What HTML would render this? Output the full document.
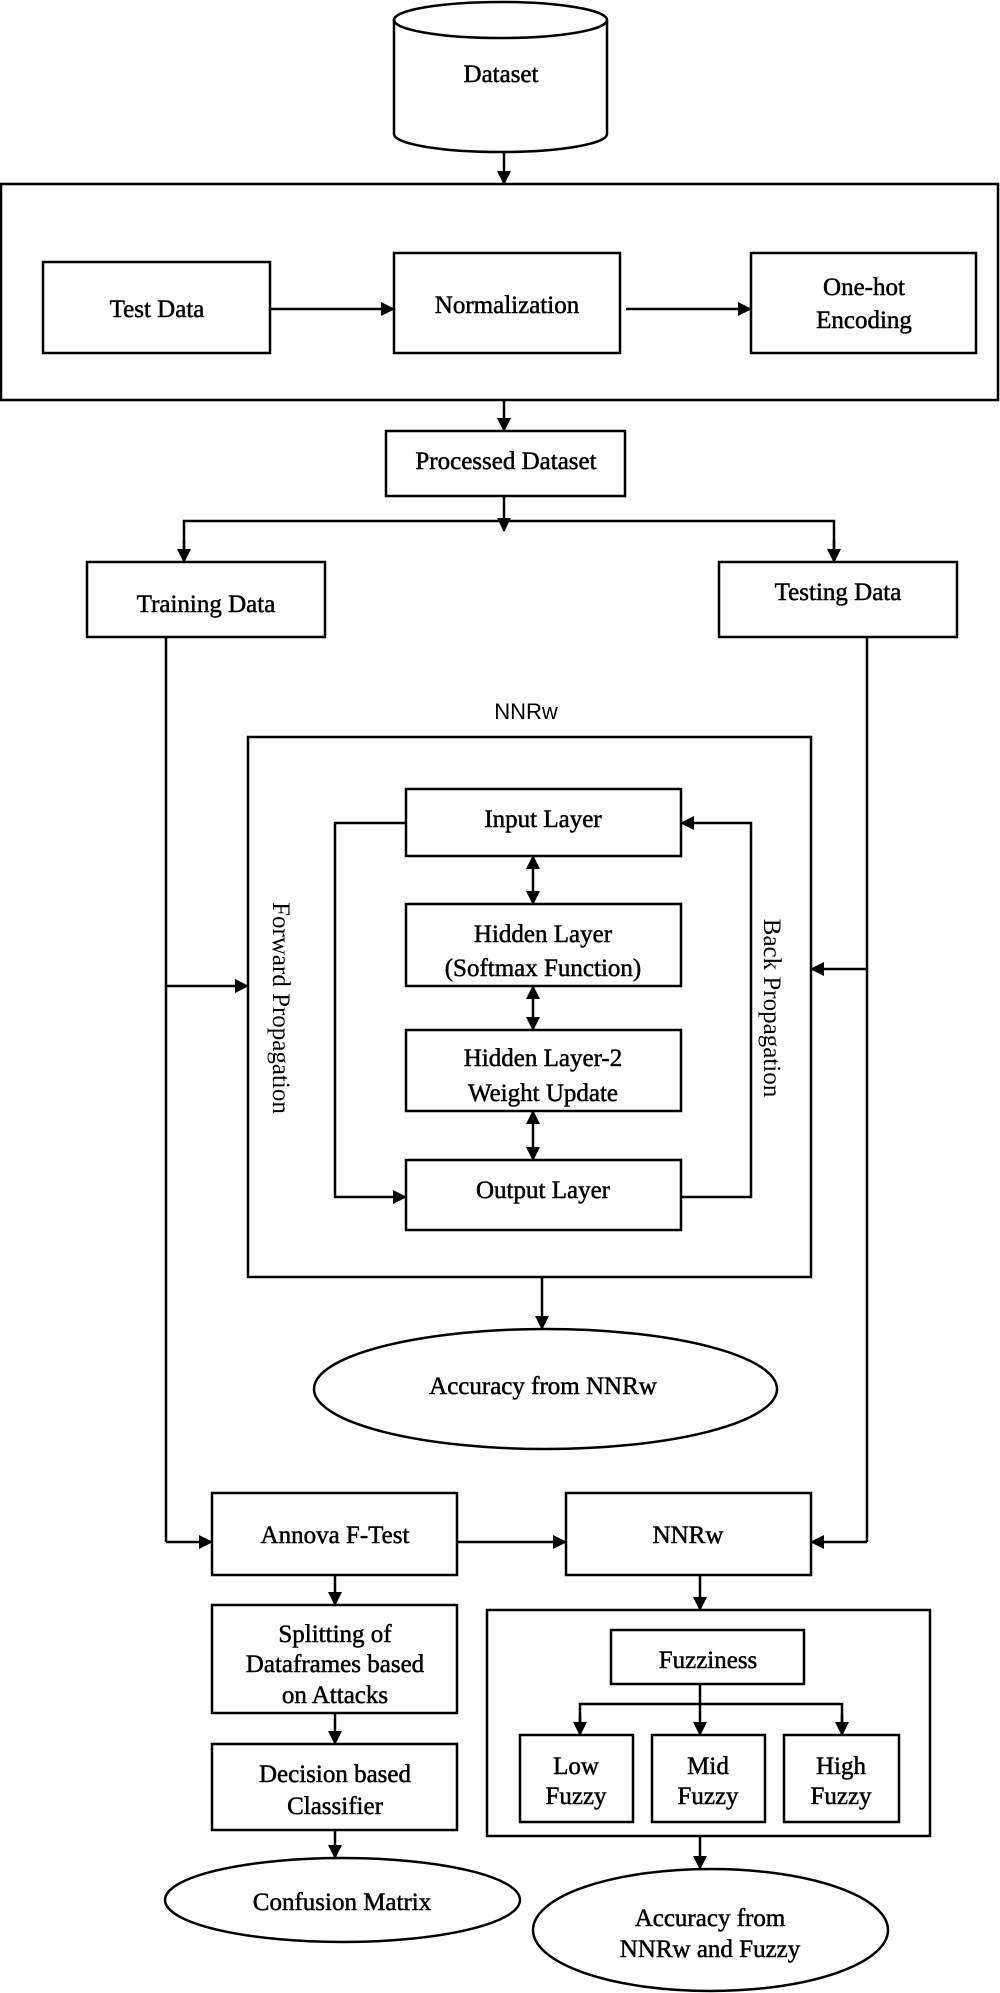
<!DOCTYPE html>
<html><head><meta charset="utf-8"><style>
html,body{margin:0;padding:0;background:#fff;}
svg{display:block;}
text{font-family:"Liberation Serif",serif;font-size:25px;fill:#000;stroke:#000;stroke-width:0.5;text-anchor:middle;}
</style></head><body>
<svg width="1000" height="1993" viewBox="0 0 1000 1993" xmlns="http://www.w3.org/2000/svg">
<defs>
<marker id="a" markerWidth="14" markerHeight="14" refX="13" refY="7" orient="auto" markerUnits="userSpaceOnUse">
<path d="M0,0 L14,7 L0,14 z" fill="#000"/></marker>
<marker id="as" markerWidth="14" markerHeight="14" refX="1" refY="7" orient="auto" markerUnits="userSpaceOnUse">
<path d="M14,0 L0,7 L14,14 z" fill="#000"/></marker>
</defs>
<g stroke="#000" stroke-width="2.5" fill="none">
<path d="M394,20 L394,134 A106.5,18 0 0 0 607,134 L607,20"/>
<ellipse cx="500.5" cy="20" rx="106.5" ry="18"/>
<line x1="504" y1="152" x2="504" y2="184" marker-end="url(#a)"/>
<rect x="1" y="184" width="997" height="216"/>
<rect x="43" y="262" width="227" height="91"/>
<rect x="394" y="253" width="226" height="100"/>
<rect x="751" y="253" width="225" height="100"/>
<line x1="271" y1="309" x2="394" y2="309" marker-end="url(#a)"/>
<line x1="626" y1="309" x2="751" y2="309" marker-end="url(#a)"/>
<line x1="504" y1="400" x2="504" y2="431" marker-end="url(#a)"/>
<rect x="386" y="431" width="239" height="65"/>
<line x1="504" y1="496" x2="504" y2="531" marker-end="url(#a)"/>
<polyline points="184,562 184,521 834,521 834,562"/>
<line x1="184" y1="540" x2="184" y2="562" marker-end="url(#a)"/>
<line x1="834" y1="540" x2="834" y2="562" marker-end="url(#a)"/>
<rect x="87" y="562" width="238" height="75"/>
<rect x="719" y="562" width="238" height="75"/>
<line x1="166" y1="637" x2="166" y2="1542"/>
<line x1="867" y1="637" x2="867" y2="1542"/>
<line x1="166" y1="986" x2="248" y2="986" marker-end="url(#a)"/>
<line x1="867" y1="969" x2="811" y2="969" marker-end="url(#a)"/>
<rect x="248" y="737" width="563" height="540"/>
<rect x="406" y="789" width="275" height="67"/>
<rect x="406" y="904" width="275" height="82"/>
<rect x="406" y="1030" width="275" height="81"/>
<rect x="406" y="1160" width="275" height="70"/>
<line x1="533" y1="856" x2="533" y2="904" marker-start="url(#as)" marker-end="url(#a)"/>
<line x1="533" y1="986" x2="533" y2="1030" marker-start="url(#as)" marker-end="url(#a)"/>
<line x1="533" y1="1111" x2="533" y2="1160" marker-start="url(#as)" marker-end="url(#a)"/>
<polyline points="406,823 335,823 335,1197 406,1197" marker-end="url(#a)"/>
<polyline points="681,1197 751,1197 751,823 681,823" marker-end="url(#a)"/>
<line x1="542" y1="1277" x2="542" y2="1329" marker-end="url(#a)"/>
<ellipse cx="545.5" cy="1389" rx="231.5" ry="60"/>
<line x1="166" y1="1542" x2="212" y2="1542" marker-end="url(#a)"/>
<line x1="867" y1="1542" x2="811" y2="1542" marker-end="url(#a)"/>
<line x1="457" y1="1542" x2="566" y2="1542" marker-end="url(#a)"/>
<rect x="212" y="1493" width="245" height="82"/>
<rect x="566" y="1493" width="245" height="82"/>
<line x1="335" y1="1575" x2="335" y2="1605" marker-end="url(#a)"/>
<rect x="212" y="1605" width="245" height="108"/>
<line x1="335" y1="1713" x2="335" y2="1744" marker-end="url(#a)"/>
<rect x="212" y="1744" width="245" height="86"/>
<line x1="335" y1="1830" x2="335" y2="1858" marker-end="url(#a)"/>
<ellipse cx="342.5" cy="1900" rx="177.5" ry="42"/>
<line x1="700" y1="1575" x2="700" y2="1610" marker-end="url(#a)"/>
<rect x="487" y="1610" width="443" height="226"/>
<rect x="611" y="1630" width="193" height="54"/>
<line x1="700" y1="1684" x2="700" y2="1735" marker-end="url(#a)"/>
<polyline points="580,1735 580,1704 842,1704 842,1735"/>
<line x1="580" y1="1715" x2="580" y2="1735" marker-end="url(#a)"/>
<line x1="842" y1="1715" x2="842" y2="1735" marker-end="url(#a)"/>
<rect x="520" y="1735" width="113" height="87"/>
<rect x="652" y="1735" width="113" height="87"/>
<rect x="784" y="1735" width="115" height="87"/>
<line x1="700" y1="1836" x2="700" y2="1869" marker-end="url(#a)"/>
<ellipse cx="710.5" cy="1930" rx="177.5" ry="61"/>
</g>
<text x="501" y="82">Dataset</text>
<text x="157" y="317">Test Data</text>
<text x="507" y="313">Normalization</text>
<text x="864" y="295">One-hot</text>
<text x="864" y="328">Encoding</text>
<text x="506" y="469">Processed Dataset</text>
<text x="206" y="612">Training Data</text>
<text x="838" y="600">Testing Data</text>
<text x="526" y="719" style="font-family:'Liberation Sans',sans-serif;font-size:22px;stroke-width:0">NNRw</text>
<text x="543" y="827">Input Layer</text>
<text x="543" y="942">Hidden Layer</text>
<text x="543" y="976">(Softmax Function)</text>
<text x="543" y="1066">Hidden Layer-2</text>
<text x="543" y="1101">Weight Update</text>
<text x="543" y="1198">Output Layer</text>
<text transform="translate(273,1008) rotate(90)" style="stroke-width:0">Forward Propagation</text>
<text transform="translate(764,1008) rotate(90)" style="stroke-width:0">Back Propagation</text>
<text x="543" y="1394">Accuracy from NNRw</text>
<text x="335" y="1543">Annova F-Test</text>
<text x="688" y="1543">NNRw</text>
<text x="335" y="1642">Splitting of</text>
<text x="335" y="1672">Dataframes based</text>
<text x="335" y="1703">on Attacks</text>
<text x="335" y="1782">Decision based</text>
<text x="335" y="1814">Classifier</text>
<text x="342" y="1910">Confusion Matrix</text>
<text x="708" y="1668">Fuzziness</text>
<text x="576" y="1774">Low</text>
<text x="576" y="1804">Fuzzy</text>
<text x="708" y="1774">Mid</text>
<text x="708" y="1804">Fuzzy</text>
<text x="841" y="1774">High</text>
<text x="841" y="1804">Fuzzy</text>
<text x="710" y="1926">Accuracy from</text>
<text x="710" y="1957">NNRw and Fuzzy</text>
</svg>
</body></html>
